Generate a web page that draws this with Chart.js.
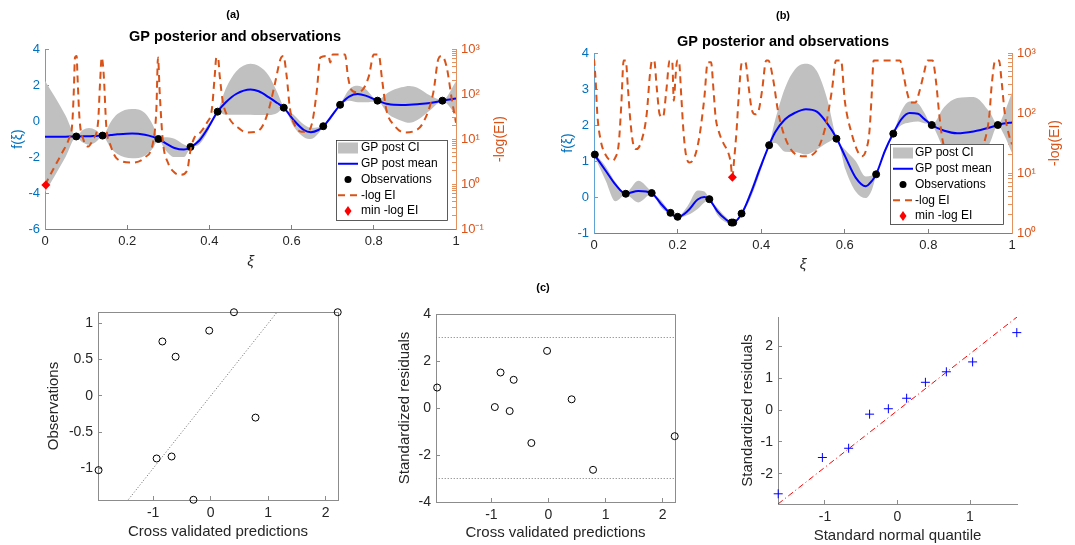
<!DOCTYPE html>
<html>
<head>
<meta charset="utf-8">
<script src="https://cdn.jsdelivr.net/npm/chart.js@4.4.0/dist/chart.umd.min.js"></script>
<style>
  body { margin: 0; background: #fff; }
  #fig { position: relative; width: 1075px; height: 545px; overflow: hidden; }
  canvas { position: absolute; }
</style>
</head>
<body>
<div id="fig">
  <canvas id="gpA" width="540" height="280" style="left:0;top:0"></canvas>
  <canvas id="gpB" width="535" height="280" style="left:540px;top:0"></canvas>
  <canvas id="cvObs" width="360" height="265" style="left:0;top:280px"></canvas>
  <canvas id="cvRes" width="360" height="265" style="left:360px;top:280px"></canvas>
  <canvas id="qq" width="365" height="265" style="left:710px;top:280px"></canvas>
</div>
<script>
// ---- panel (a) ----
const aXi = [0, 0.025, 0.05, 0.076, 0.092, 0.107, 0.123, 0.14, 0.16, 0.176,
  0.212, 0.243, 0.263, 0.276, 0.291, 0.315, 0.338, 0.354, 0.375, 0.395,
  0.42, 0.44, 0.465, 0.5, 0.52, 0.545, 0.565, 0.581, 0.605, 0.63,
  0.647, 0.665, 0.677, 0.695, 0.718, 0.741, 0.761, 0.78, 0.809, 0.835,
  0.867, 0.887, 0.906, 0.937, 0.967, 1.0];
const aMean = [-0.88, -0.88, -0.87, -0.86, -0.85, -0.85, -0.83, -0.82, -0.78, -0.74,
  -0.69, -0.76, -0.88, -1.0, -1.2, -1.5, -1.59, -1.45, -1.1, -0.45,
  0.52, 1.04, 1.5, 1.75, 1.65, 1.31, 1.0, 0.74, 0.05, -0.5,
  -0.62, -0.5, -0.3, 0.2, 0.9, 1.37, 1.5, 1.41, 1.13, 0.94,
  0.89, 0.9, 0.93, 1.0, 1.13, 1.25];
const aUpper = [2.24, 1.3, 0.3, -0.82, -0.5, -0.39, -0.5, -0.79, -0.05, 0.39,
  0.67, 0.44, -0.25, -0.97, -0.9, -0.98, -1.3, -1.42, -0.92, -0.25,
  0.55, 1.8, 2.75, 3.18, 3.05, 2.5, 1.6, 0.78, 0.35, -0.2,
  -0.38, -0.35, -0.28, 0.32, 0.93, 1.78, 1.96, 1.78, 1.16, 1.59,
  1.87, 1.95, 1.85, 1.41, 1.16, 2.2];
const aLower = [-3.96, -3.0, -2.0, -0.9, -1.2, -1.32, -1.18, -0.85, -1.5, -1.83,
  -2.07, -1.93, -1.5, -1.03, -1.55, -2.0, -2.0, -1.48, -1.3, -0.65,
  0.49, 0.35, 0.35, 0.35, 0.33, 0.33, 0.45, 0.7, -0.3, -0.9,
  -1.0, -0.7, -0.32, 0.08, 0.87, 1.13, 1.04, 1.04, 1.1, 0.39,
  0.02, -0.1, 0.05, 0.6, 1.1, 0.35];
const aObsXi = [0.076, 0.14, 0.276, 0.354, 0.42, 0.581, 0.677, 0.718, 0.809, 0.967];
const aObsF = [-0.86, -0.81, -1.0, -1.44, 0.52, 0.74, -0.29, 0.9, 1.13, 1.13];
const aEiXi = [0, 0.022, 0.042, 0.058, 0.066, 0.07, 0.073, 0.077, 0.079, 0.084,
  0.093, 0.105, 0.117, 0.129, 0.134, 0.138, 0.143, 0.149, 0.16, 0.176,
  0.212, 0.243, 0.263, 0.271, 0.275, 0.279, 0.287, 0.299, 0.315, 0.33,
  0.346, 0.353, 0.362, 0.378, 0.394, 0.406, 0.413, 0.417, 0.421, 0.425,
  0.433, 0.449, 0.473, 0.49, 0.514, 0.53, 0.545, 0.56, 0.573, 0.58,
  0.588, 0.596, 0.608, 0.624, 0.64, 0.65, 0.661, 0.67, 0.69, 0.694,
  0.70, 0.73, 0.737, 0.745, 0.757, 0.773, 0.788, 0.80, 0.812, 0.82,
  0.83, 0.85, 0.875, 0.898, 0.92, 0.945, 0.957, 0.965, 0.977, 0.99, 1.0];
const aEi = [0.95, 2.3, 5.0, 10, 20, 110, 650, 700, 257, 28,
  10, 6.8, 10, 23, 180, 650, 257, 20, 7, 3.6,
  3.0, 3.9, 8.5, 46, 650, 110, 8.5, 3.0, 1.8, 1.6,
  2.0, 5, 10, 14, 23, 46, 257, 650, 650, 257,
  65, 28, 17, 14, 14.5, 20, 47, 180, 600, 700,
  250, 47, 20, 14.5, 15, 23, 110, 650, 700, 500,
  750, 750, 250, 125, 110, 125, 250, 750, 750, 215,
  47, 20, 14, 15, 23, 110, 600, 700, 410, 74, 23];
const aMinXi = [0.002];
const aMinEi = [0.95];

// ---- panel (b) ----
const bXi = [0, 0.028, 0.051, 0.076, 0.106, 0.138, 0.161, 0.183, 0.2, 0.224,
  0.248, 0.264, 0.276, 0.295, 0.315, 0.331, 0.353, 0.374, 0.398, 0.419,
  0.433, 0.457, 0.481, 0.507, 0.533, 0.557, 0.58, 0.602, 0.626, 0.65,
  0.665, 0.675, 0.696, 0.716, 0.736, 0.755, 0.775, 0.79, 0.808, 0.838,
  0.869, 0.908, 0.947, 0.966, 0.98, 1.0];
const bMean = [1.19, 0.73, 0.35, 0.09, 0.17, 0.11, -0.2, -0.46, -0.56, -0.39,
  -0.07, 0.0, -0.07, -0.39, -0.62, -0.72, -0.47, 0.07, 0.82, 1.44,
  1.79, 2.16, 2.34, 2.44, 2.37, 2.06, 1.64, 1.1, 0.54, 0.3,
  0.45, 0.63, 1.28, 1.77, 2.17, 2.33, 2.31, 2.17, 2.0, 1.84,
  1.77, 1.82, 1.93, 2.0, 2.04, 2.07];
const bUpper = [1.22, 0.85, 0.42, 0.12, 0.45, 0.14, -0.1, -0.44, -0.54, -0.25,
  0.18, 0.15, -0.05, -0.3, -0.55, -0.7, -0.45, 0.17, 0.92, 1.46,
  2.12, 3.03, 3.55, 3.7, 3.5, 2.76, 1.66, 1.3, 1.0, 0.57,
  0.6, 0.65, 1.35, 1.78, 2.4, 2.65, 2.6, 2.35, 2.01, 2.5,
  2.75, 2.78, 2.35, 2.01, 2.3, 2.9];
const bLower = [1.16, 0.45, -0.12, 0.06, -0.15, 0.08, -0.3, -0.48, -0.58, -0.5,
  -0.33, -0.15, -0.09, -0.5, -0.7, -0.74, -0.49, -0.05, 0.7, 1.42,
  1.5, 1.26, 1.25, 1.18, 1.32, 1.5, 1.62, 0.75, 0.15, -0.03,
  0.2, 0.61, 1.2, 1.75, 2.0, 2.07, 2.1, 2.05, 1.99, 1.3,
  0.9, 0.95, 1.5, 1.99, 1.75, 1.22];
const bObsXi = [0.002, 0.076, 0.138, 0.183, 0.2, 0.276, 0.329, 0.333, 0.353, 0.419, 0.58, 0.675, 0.716, 0.808, 0.966];
const bObsF = [1.18, 0.09, 0.11, -0.44, -0.55, -0.06, -0.71, -0.71, -0.46, 1.44, 1.62, 0.63, 1.76, 2.0, 2.0];
const bEiXi = [0, 0.004, 0.008, 0.016, 0.028, 0.043, 0.051, 0.059, 0.065, 0.071,
  0.076, 0.081, 0.087, 0.094, 0.102, 0.114, 0.126, 0.134, 0.139, 0.144,
  0.15, 0.157, 0.165, 0.173, 0.181, 0.187, 0.191, 0.195, 0.199, 0.203,
  0.209, 0.214, 0.22, 0.228, 0.24, 0.252, 0.264, 0.272, 0.28, 0.286,
  0.291, 0.299, 0.311, 0.32, 0.327, 0.331, 0.335, 0.341, 0.346, 0.354,
  0.362, 0.37, 0.378, 0.386, 0.394, 0.402, 0.412, 0.417,
  0.429, 0.44, 0.457, 0.485, 0.505, 0.529, 0.553, 0.569, 0.579, 0.591,
  0.6, 0.617, 0.632, 0.641,
  0.65, 0.659, 0.664, 0.669, 0.732, 0.74, 0.748, 0.758, 0.769, 0.779,
  0.789, 0.798, 0.81, 0.818, 0.826, 0.834, 0.85, 0.875, 0.91, 0.935,
  0.946, 0.951, 0.96, 0.969, 0.975, 0.983, 0.992, 1.0];
const bEi = [800, 345, 95, 35, 20, 16, 18, 30, 125, 750,
  750, 270, 74, 30, 25, 35, 95, 450, 750, 750,
  270, 95, 85, 235, 750, 750, 160, 400, 750, 750,
  180, 50, 20, 15, 18, 40, 180, 700, 700, 235,
  85, 48, 30, 23, 15, 8.5, 16, 50, 180, 700,
  700, 270, 110, 95, 110, 235, 750, 750,
  350, 110, 39, 20, 19, 22, 56, 235, 750, 750,
  160, 44, 22, 19,
  23, 50, 180, 750, 750, 450, 235, 150, 150, 235,
  450, 750, 750, 345, 95, 35, 18, 14, 16, 35,
  95, 270, 750, 750, 345, 95, 45, 30];
const bMinXi = [0.331];
const bMinEi = [8.5];

// ---- panel (c) ----
const cvPred = [-1.95, -0.94, -0.84, -0.68, -0.61, -0.30, -0.025, 0.405, 0.78, 2.21];
const cvObs = [-1.025, -0.864, 0.75, -0.837, 0.54, -1.434, 0.90, 1.154, -0.30, 1.154];
const cvResid = [0.87, 0.04, 1.51, -0.13, 1.20, -1.49, 2.43, 0.37, -2.63, -1.20];
const diagRef = [-2.5, 2.5];
const limitX = [-2.5, 2.5];
const limitHi = [3, 3];
const limitLo = [-3, -3];
const qqTheo = [-1.645, -1.036, -0.674, -0.385, -0.126, 0.126, 0.385, 0.674, 1.036, 1.645];
const qqResid = [-2.63, -1.49, -1.20, -0.13, 0.04, 0.37, 0.87, 1.20, 1.51, 2.43];
const qqLineX = [-1.648, 1.648];
const qqLineY = [-2.95, 2.92];

const FONT = '"Liberation Sans", Arial, Helvetica, sans-serif';
Chart.defaults.font.family = FONT;
Chart.defaults.color = '#262626';
Chart.defaults.animation = false;
Chart.defaults.events = [];

const pts = (xs, ys) => xs.map((x, i) => ({ x: x, y: ys[i] }));
const fixW = w => s => { s.width = w; };
const fixH = h => s => { s.height = h; };
const inTicks = c => ({ display: true, drawOnChartArea: false, drawTicks: true, tickLength: -4, color: c });
const numLabel = v => String(Math.round(v * 1000) / 1000);

const sup = { '-': '\u207B', '0': '\u2070', '1': '\u00B9', '2': '\u00B2', '3': '\u00B3' };
function powLabel(v) {
  const l = Math.log10(v), e = Math.round(l);
  if (Math.abs(l - e) > 1e-6) return '';
  return '10' + String(e).split('').map(c => sup[c]).join('');
}
function keepWholeDigits(s) {
  s.ticks = s.ticks.filter(t => {
    const m = t.value / Math.pow(10, Math.floor(Math.log10(t.value) + 1e-9));
    return Math.abs(m - Math.round(m)) < 1e-6;
  });
}

// free text (panel letters, titles, rotated right label)
const panelText = {
  id: 'panelText',
  afterDraw(chart, args, o) {
    if (!o.items) return;
    const ctx = chart.ctx;
    o.items.forEach(t => {
      ctx.save();
      ctx.font = t.font;
      ctx.fillStyle = t.color || '#000';
      ctx.textAlign = 'center';
      ctx.textBaseline = 'middle';
      ctx.translate(t.x, t.y);
      if (t.rot) ctx.rotate(t.rot);
      ctx.fillText(t.text, 0, 0);
      ctx.restore();
    });
  }
};

// boxed legend in the lower right corner of the plot
const boxLegend = {
  id: 'boxLegend',
  afterDraw(chart, args, o) {
    if (!o.rows) return;
    const ctx = chart.ctx, ca = chart.chartArea;
    const bx = Math.round(ca.right - o.gap - o.w), by = Math.round(ca.bottom - o.gap - o.h);
    ctx.save();
    ctx.fillStyle = '#fff';
    ctx.fillRect(bx, by, o.w, o.h);
    ctx.strokeStyle = '#333';
    ctx.lineWidth = 0.8;
    ctx.strokeRect(bx + 0.5, by + 0.5, o.w, o.h);
    ctx.font = '12px ' + FONT;
    ctx.textBaseline = 'middle';
    o.rows.forEach((di, i) => {
      const ds = chart.data.datasets[di];
      const cy = by + o.first + i * o.step, sx = bx + o.symX;
      ctx.setLineDash([]);
      if (ds.kind === 'patch') {
        ctx.fillStyle = ds.backgroundColor;
        ctx.fillRect(sx, cy - 5.5, 20, 11);
      } else if (ds.kind === 'line') {
        ctx.strokeStyle = ds.borderColor;
        ctx.lineWidth = ds.borderWidth;
        ctx.setLineDash(ds.borderDash || []);
        ctx.beginPath(); ctx.moveTo(sx, cy); ctx.lineTo(sx + 20, cy); ctx.stroke();
      } else if (ds.kind === 'dot') {
        ctx.fillStyle = ds.backgroundColor;
        ctx.beginPath(); ctx.arc(sx + 10, cy, 3.5, 0, 2 * Math.PI); ctx.fill();
      } else if (ds.kind === 'diamond') {
        ctx.fillStyle = ds.backgroundColor;
        ctx.beginPath();
        ctx.moveTo(sx + 10, cy - 5); ctx.lineTo(sx + 13.5, cy);
        ctx.lineTo(sx + 10, cy + 5); ctx.lineTo(sx + 6.5, cy);
        ctx.closePath(); ctx.fill();
      }
      ctx.fillStyle = '#000';
      ctx.fillText(ds.label, bx + o.textX, cy);
    });
    ctx.restore();
  }
};

// top and right edges of a boxed axes
const frame = {
  id: 'frame',
  beforeDatasetsDraw(chart, args, o) {
    if (!o.color) return;
    const c = chart.chartArea, ctx = chart.ctx;
    ctx.save();
    ctx.strokeStyle = o.color;
    ctx.lineWidth = 1;
    ctx.beginPath();
    ctx.moveTo(c.left, Math.round(c.top) + 0.5);
    ctx.lineTo(Math.round(c.right) + 0.5, Math.round(c.top) + 0.5);
    ctx.lineTo(Math.round(c.right) + 0.5, c.bottom);
    ctx.stroke();
    ctx.restore();
  }
};
Chart.register(panelText, boxLegend, frame);

function gpChart(id, g) {
  return new Chart(document.getElementById(id), {
    type: 'line',
    data: {
      datasets: [
        { label: 'min -log EI', data: pts(g.minXi, g.minEi), yAxisID: 'y2', showLine: false,
          pointStyle: 'rectRot', pointRadius: 4.5, backgroundColor: '#FF0000', borderColor: '#FF0000',
          borderWidth: 0, clip: false, kind: 'diamond' },
        { label: '-log EI', data: pts(g.eiXi, g.ei), yAxisID: 'y2', borderColor: '#D95319',
          borderWidth: 2, borderDash: [7, 5], pointRadius: 0, cubicInterpolationMode: 'monotone', kind: 'line' },
        { label: 'Observations', data: pts(g.obsXi, g.obsF), yAxisID: 'y', showLine: false,
          pointRadius: 3.5, backgroundColor: '#000', borderColor: '#000', clip: false, kind: 'dot' },
        { label: 'GP post mean', data: pts(g.xi, g.mean), yAxisID: 'y', borderColor: '#0000FF',
          borderWidth: 2, pointRadius: 0, cubicInterpolationMode: 'monotone', kind: 'line' },
        { label: 'GP post CI', data: pts(g.xi, g.upper), yAxisID: 'y', borderWidth: 0,
          borderColor: 'rgba(0,0,0,0)', pointRadius: 0, fill: '+1', backgroundColor: '#C0C0C0',
          cubicInterpolationMode: 'monotone', kind: 'patch' },
        { label: '', data: pts(g.xi, g.lower), yAxisID: 'y', borderWidth: 0,
          borderColor: 'rgba(0,0,0,0)', pointRadius: 0, fill: false, cubicInterpolationMode: 'monotone' }
      ]
    },
    options: {
      responsive: false,
      devicePixelRatio: 1,
      layout: { padding: { top: g.top, left: 0, right: 0, bottom: 0 } },
      plugins: {
        legend: { display: false },
        tooltip: { enabled: false },
        panelText: { items: g.texts },
        boxLegend: g.legend
      },
      scales: {
        x: {
          type: 'linear', min: 0, max: 1, afterFit: fixH(g.xH),
          ticks: { stepSize: 0.2, padding: 9, font: { size: 13 }, color: '#262626', callback: numLabel },
          grid: inTicks('#808080'), border: { color: '#808080' },
          title: { display: true, text: '\u03BE', font: { size: 15, style: 'italic' }, color: '#262626',
                   padding: { top: 0, bottom: g.xTitlePad } }
        },
        y: {
          type: 'linear', position: 'left', min: g.fMin, max: g.fMax, afterFit: fixW(g.yW),
          ticks: { stepSize: g.fStep, padding: 9, font: { size: 13 }, color: '#0072BD', callback: numLabel },
          grid: inTicks('#5FA2D4'), border: { color: '#5FA2D4' },
          title: { display: true, text: 'f(\u03BE)', font: { size: 14 }, color: '#0072BD',
                   padding: { top: g.yTitlePad, bottom: 0 } }
        },
        y2: {
          type: 'logarithmic', position: 'right', min: g.eiMin, max: 1000, afterFit: fixW(g.y2W),
          afterBuildTicks: keepWholeDigits,
          ticks: { autoSkip: false, callback: powLabel, padding: 9, font: { size: 13 }, color: '#D95319' },
          grid: inTicks('#E3915F'), border: { color: '#E3915F' }
        }
      }
    }
  });
}

gpChart('gpA', {
  xi: aXi, mean: aMean, upper: aUpper, lower: aLower,
  obsXi: aObsXi, obsF: aObsF, eiXi: aEiXi, ei: aEi, minXi: aMinXi, minEi: aMinEi,
  fMin: -6, fMax: 4, fStep: 2, eiMin: 0.1,
  top: 49, xH: 51, yW: 45, y2W: 84, xTitlePad: 9, yTitlePad: 10,
  texts: [
    { text: '(a)', x: 233, y: 15, font: 'bold 11px ' + FONT },
    { text: 'GP posterior and observations', x: 235, y: 37, font: 'bold 14.5px ' + FONT },
    { text: '-log(EI)', x: 500, y: 139, font: '14px ' + FONT, color: '#D95319', rot: -Math.PI / 2 }
  ],
  legend: { rows: [4, 3, 2, 1, 0], w: 111, h: 80, gap: 9, first: 8, step: 15.75, symX: 2, textX: 25 }
});

gpChart('gpB', {
  xi: bXi, mean: bMean, upper: bUpper, lower: bLower,
  obsXi: bObsXi, obsF: bObsF, eiXi: bEiXi, ei: bEi, minXi: bMinXi, minEi: bMinEi,
  fMin: -1, fMax: 4, fStep: 1, eiMin: 1,
  top: 53, xH: 47, yW: 54, y2W: 63, xTitlePad: 6, yTitlePad: 20,
  texts: [
    { text: '(b)', x: 243, y: 16, font: 'bold 11px ' + FONT },
    { text: 'GP posterior and observations', x: 243, y: 42, font: 'bold 14.5px ' + FONT },
    { text: '-log(EI)', x: 515, y: 143, font: '14px ' + FONT, color: '#D95319', rot: -Math.PI / 2 }
  ],
  legend: { rows: [4, 3, 2, 1, 0], w: 113, h: 80, gap: 9, first: 9, step: 15.75, symX: 3, textX: 25 }
});

function cAxis(min, max, step, size, titleText, titlePad, isX) {
  return {
    type: 'linear', min: min, max: max,
    afterFit: isX ? fixH(size) : fixW(size),
    ticks: { stepSize: step, includeBounds: false, padding: 9, font: { size: 14 }, color: '#262626',
             callback: numLabel },
    grid: inTicks('#8C8C8C'), border: { color: '#8C8C8C' },
    title: { display: true, text: titleText, font: { size: 15 }, color: '#262626',
             padding: isX ? { top: 0, bottom: titlePad } : { top: titlePad, bottom: 0 } }
  };
}
const openCircle = { pointStyle: 'circle', pointRadius: 3.5, borderColor: '#000', borderWidth: 1,
                     backgroundColor: 'rgba(0,0,0,0)', clip: false };

new Chart(document.getElementById('cvObs'), {
  type: 'scatter',
  data: {
    datasets: [
      Object.assign({ data: pts(cvPred, cvObs) }, openCircle),
      { data: pts(diagRef, diagRef), showLine: true, borderColor: '#666', borderWidth: 1,
        borderDash: [1, 2], pointRadius: 0 }
    ]
  },
  options: {
    responsive: false, devicePixelRatio: 1,
    layout: { padding: { top: 32, right: 22, left: 0, bottom: 0 } },
    plugins: { legend: { display: false }, tooltip: { enabled: false }, frame: { color: '#8C8C8C' } },
    scales: {
      x: cAxis(-1.96, 2.215, 1, 45, 'Cross validated predictions', 4, true),
      y: cAxis(-1.437, 1.157, 0.5, 98, 'Observations', 45, false)
    }
  }
});

new Chart(document.getElementById('cvRes'), {
  type: 'scatter',
  data: {
    datasets: [
      Object.assign({ data: pts(cvPred, cvResid) }, openCircle),
      { data: pts(limitX, limitHi), showLine: true, borderColor: '#777', borderWidth: 1,
        borderDash: [1, 2], pointRadius: 0 },
      { data: pts(limitX, limitLo), showLine: true, borderColor: '#777', borderWidth: 1,
        borderDash: [1, 2], pointRadius: 0 }
    ]
  },
  options: {
    responsive: false, devicePixelRatio: 1,
    layout: { padding: { top: 34, right: 45, left: 0, bottom: 0 } },
    plugins: {
      legend: { display: false }, tooltip: { enabled: false }, frame: { color: '#8C8C8C' },
      panelText: { items: [{ text: '(c)', x: 183, y: 8, font: 'bold 11px ' + FONT }] }
    },
    scales: {
      x: cAxis(-1.97, 2.215, 1, 43, 'Cross validated predictions', 3, true),
      y: cAxis(-4, 4, 2, 76, 'Standardized residuals', 36, false)
    }
  }
});

new Chart(document.getElementById('qq'), {
  type: 'scatter',
  data: {
    datasets: [
      { data: pts(qqTheo, qqResid), pointStyle: 'cross', pointRadius: 4.5, borderColor: '#0000FF',
        borderWidth: 1, clip: false },
      { data: pts(qqLineX, qqLineY), showLine: true, borderColor: '#FF0000', borderWidth: 1,
        borderDash: [6, 3, 1, 3], pointRadius: 0 }
    ]
  },
  options: {
    responsive: false, devicePixelRatio: 1,
    layout: { padding: { top: 37, right: 58, left: 0, bottom: 0 } },
    plugins: { legend: { display: false }, tooltip: { enabled: false } },
    scales: {
      x: cAxis(-1.648, 1.648, 1, 41, 'Standard normal quantile', 0, true),
      y: cAxis(-2.95, 2.92, 1, 68, 'Standardized residuals', 29, false)
    }
  }
});
</script>
</body>
</html>
